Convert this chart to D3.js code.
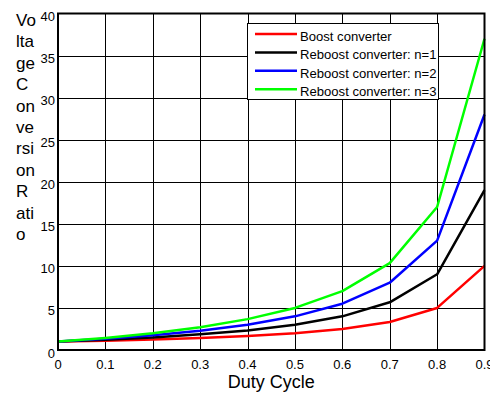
<!DOCTYPE html>
<html>
<head>
<meta charset="utf-8">
<script src="https://cdn.jsdelivr.net/npm/d3@7"></script>
<style>
  body { margin: 0; background: #fff; }
  svg { display: block; font-family: "Liberation Sans", Arial, sans-serif; }
</style>
</head>
<body>
<svg id="chart" width="490" height="394"></svg>
<script>
// duty cycle values on the x axis
const duty = [0, 0.1, 0.2, 0.3, 0.4, 0.5, 0.6, 0.7, 0.8, 0.9];

// voltage conversion ratios
const boost    = [1, 1.11, 1.25, 1.43, 1.67, 2, 2.5, 3.33, 5, 10];
const reboost1 = [1, 1.22, 1.5, 1.86, 2.33, 3, 4, 5.67, 9, 19];
const reboost2 = [1, 1.33, 1.75, 2.29, 3, 4, 5.5, 8, 13, 28];
const reboost3 = [1, 1.44, 2, 2.71, 3.67, 5, 7, 10.33, 17, 37];

const seriesNames = ['Boost converter', 'Reboost converter: n=1', 'Reboost converter: n=2', 'Reboost converter: n=3'];
const seriesColours = ['#ff0000', '#000000', '#0000ff', '#00ff00'];

const xTicks = [0, 0.1, 0.2, 0.3, 0.4, 0.5, 0.6, 0.7, 0.8, 0.9];
const yTicks = [0, 5, 10, 15, 20, 25, 30, 35, 40];

// y label as the wrapped fragments shown in the chart
const yLabelParts = ['Vo', 'lta', 'ge', 'C', 'on', 've', 'rsi', 'on', 'R', 'ati', 'o'];

const svg = d3.select('#chart');

const plotLeft = 58, plotRight = 484.5, plotTop = 13.5, plotBottom = 350;

const x = d3.scaleLinear().domain([0, 0.9]).range([plotLeft, plotRight]);
const y = d3.scaleLinear().domain([0, 40]).range([plotBottom, plotTop]);

//-------------------------------------------------------------------------------
// grid

const grid = svg.append('g').attr('stroke', '#000').attr('stroke-width', 1).attr('shape-rendering', 'crispEdges');

grid.selectAll('line.vx')
    .data(xTicks.filter(t => t > 0 && t < 0.9))
    .join('line')
    .attr('x1', d => Math.round(x(d)) + 0.5).attr('x2', d => Math.round(x(d)) + 0.5)
    .attr('y1', plotTop).attr('y2', plotBottom);

grid.selectAll('line.hy')
    .data(yTicks.filter(t => t > 0 && t < 40))
    .join('line')
    .attr('y1', d => Math.round(y(d)) + 0.5).attr('y2', d => Math.round(y(d)) + 0.5)
    .attr('x1', plotLeft).attr('x2', plotRight);

//-------------------------------------------------------------------------------
// series lines

const allSeries = [boost, reboost1, reboost2, reboost3];

const line = d3.line()
    .x((d, i) => x(duty[i]))
    .y(d => y(d));

svg.append('g')
    .selectAll('path')
    .data(allSeries)
    .join('path')
    .attr('d', line)
    .attr('fill', 'none')
    .attr('stroke', (d, i) => seriesColours[i])
    .attr('stroke-width', 2.5)
    .attr('stroke-linejoin', 'round');

//-------------------------------------------------------------------------------
// axes box

svg.append('rect')
    .attr('x', plotLeft).attr('y', plotTop)
    .attr('width', plotRight - plotLeft).attr('height', plotBottom - plotTop)
    .attr('fill', 'none').attr('stroke', '#000').attr('stroke-width', 2);

// tick labels
svg.append('g')
    .selectAll('text')
    .data(xTicks)
    .join('text')
    .attr('x', d => x(d))
    .attr('y', plotBottom + 19)
    .attr('text-anchor', 'middle')
    .attr('font-size', 13)
    .text(d => d);

svg.append('g')
    .selectAll('text')
    .data(yTicks)
    .join('text')
    .attr('x', plotLeft - 3)
    .attr('y', d => y(d) + 7.5)
    .attr('text-anchor', 'end')
    .attr('font-size', 13)
    .text(d => d);

// axis titles
svg.append('text')
    .attr('x', (plotLeft + plotRight) / 2).attr('y', 388)
    .attr('text-anchor', 'middle')
    .attr('font-size', 18)
    .text('Duty Cycle');

svg.append('g')
    .selectAll('text')
    .data(yLabelParts)
    .join('text')
    .attr('x', 16)
    .attr('y', (d, i) => 26 + i * 21.4)
    .attr('font-size', 17)
    .text(d => d);

//-------------------------------------------------------------------------------
// legend

const legend = svg.append('g');

legend.append('rect')
    .attr('x', 247.5).attr('y', 23.5)
    .attr('width', 191).attr('height', 76)
    .attr('fill', '#fff').attr('stroke', '#000').attr('stroke-width', 1);

const items = legend.selectAll('g')
    .data(seriesNames)
    .join('g')
    .attr('transform', (d, i) => `translate(0, ${34 + i * 18.4})`);

items.append('line')
    .attr('x1', 255).attr('x2', 297)
    .attr('stroke', (d, i) => seriesColours[i])
    .attr('stroke-width', 2.5);

items.append('text')
    .attr('x', 300).attr('y', 7)
    .attr('font-size', 13.1)
    .text(d => d);
</script>
</body>
</html>
